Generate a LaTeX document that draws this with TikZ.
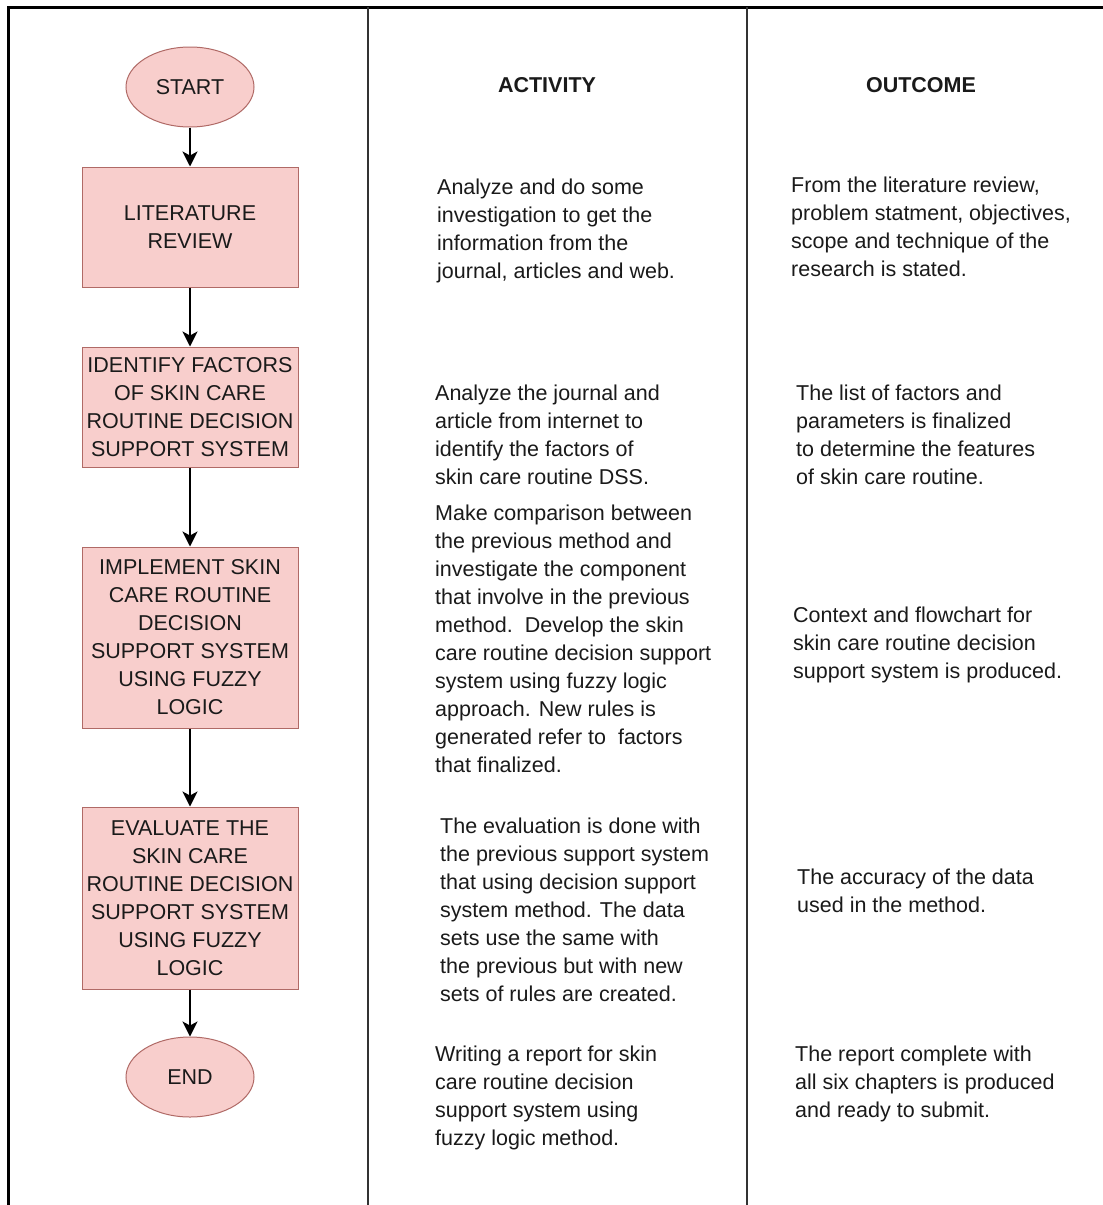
\documentclass[tikz,border=0pt]{standalone}
\usepackage{fontspec}
\setmainfont{Liberation Sans}
\usetikzlibrary{shapes.geometric,arrows.meta}
\definecolor{boxfill}{HTML}{F8CECC}
\definecolor{boxline}{HTML}{B06A66}
\definecolor{ink}{HTML}{1A1A1A}
\tikzset{
  txt/.style={font=\fontsize{21.5}{28}\selectfont, text=ink},
  stepbox/.style={txt, draw=boxline, line width=1pt, fill=boxfill, rectangle,
    minimum width=216pt, inner sep=0pt, align=center},
  terminal/.style={txt, draw=boxline, line width=1pt, fill=boxfill, ellipse,
    minimum width=128pt, minimum height=80pt, inner sep=0pt},
  flow/.style={draw=black, line width=1.8pt,
    -{Stealth[length=15pt,width=15pt,inset=4pt]}},
  note/.style={txt, anchor=north west, align=left, inner sep=0pt},
  head/.style={txt, font=\fontsize{21.5}{28}\selectfont\bfseries},
  frame/.style={draw=black, line width=3pt},
  divider/.style={draw=black!80, line width=2pt}
}
\begin{document}
\begin{tikzpicture}[x=1pt,y=-1pt]
\useasboundingbox (0,0) rectangle (1103,1205);
\fill[white] (0,0) rectangle (1103,1205);

% table rules
\coordinate (tl) at (8,7);
\coordinate (tr) at (1103,7);
\coordinate (bl) at (8,1205);
\draw[frame] (bl) -- (tl) -- (tr);
\coordinate (d1t) at (368,7);
\coordinate (d1b) at (368,1205);
\coordinate (d2t) at (747,7);
\coordinate (d2b) at (747,1205);
\draw[divider] (d1t) -- (d1b);
\draw[divider] (d2t) -- (d2b);

% column headings
\node[head] (hact) at (547,85) {ACTIVITY};
\node[head] (hout) at (921,85) {OUTCOME};

% flowchart
\node[terminal] (start) at (190,87) {START};
\node[stepbox, minimum height=120pt] (lit) at (190,227) {LITERATURE\\REVIEW};
\node[stepbox, minimum height=120pt] (ident) at (190,407)
  {IDENTIFY FACTORS\\OF SKIN CARE\\ROUTINE DECISION\\SUPPORT SYSTEM};
\node[stepbox, minimum height=181pt] (impl) at (190,637.5)
  {IMPLEMENT SKIN\\CARE ROUTINE\\DECISION\\SUPPORT SYSTEM\\USING FUZZY\\LOGIC};
\node[stepbox, minimum height=182pt] (eval) at (190,898)
  {EVALUATE THE\\SKIN CARE\\ROUTINE DECISION\\SUPPORT SYSTEM\\USING FUZZY\\LOGIC};
\node[terminal] (end) at (190,1077) {END};

\draw[flow] (start) -- (lit);
\draw[flow] (lit) -- (ident);
\draw[flow] (ident) -- (impl);
\draw[flow] (impl) -- (eval);
\draw[flow] (eval) -- (end);

% activity column
\node[note] (a1) at (437,179) {Analyze and do some\\investigation to get the\\information from the\\journal, articles and web.};
\node[note] (a2) at (435,385) {Analyze the journal and\\article from internet to\\identify the factors of\\skin care routine DSS.};
\node[note] (a3) at (435,505) {Make comparison between\\the previous method and\\investigate the component\\that involve in the previous\\method.\ \ Develop the skin\\care routine decision support\\system using fuzzy logic\\approach. New rules is\\generated refer to\ \ factors\\that finalized.};
\node[note] (a4) at (440,818) {The evaluation is done with\\the previous support system\\that using decision support\\system method. The data\\sets use the same with\\the previous but with new\\sets of rules are created.};
\node[note] (a5) at (435,1046) {Writing a report for skin\\care routine decision\\support system using\\fuzzy logic method.};

% outcome column
\node[note] (o1) at (791,177) {From the literature review,\\problem statment, objectives,\\scope and technique of the\\research is stated.};
\node[note] (o2) at (796,385) {The list of factors and\\parameters is finalized\\to determine the features\\of skin care routine.};
\node[note] (o3) at (793,607) {Context and flowchart for\\skin care routine decision\\support system is produced.};
\node[note] (o4) at (797,869) {The accuracy of the data\\used in the method.};
\node[note] (o5) at (795,1046) {The report complete with\\all six chapters is produced\\and ready to submit.};
\end{tikzpicture}
\end{document}
